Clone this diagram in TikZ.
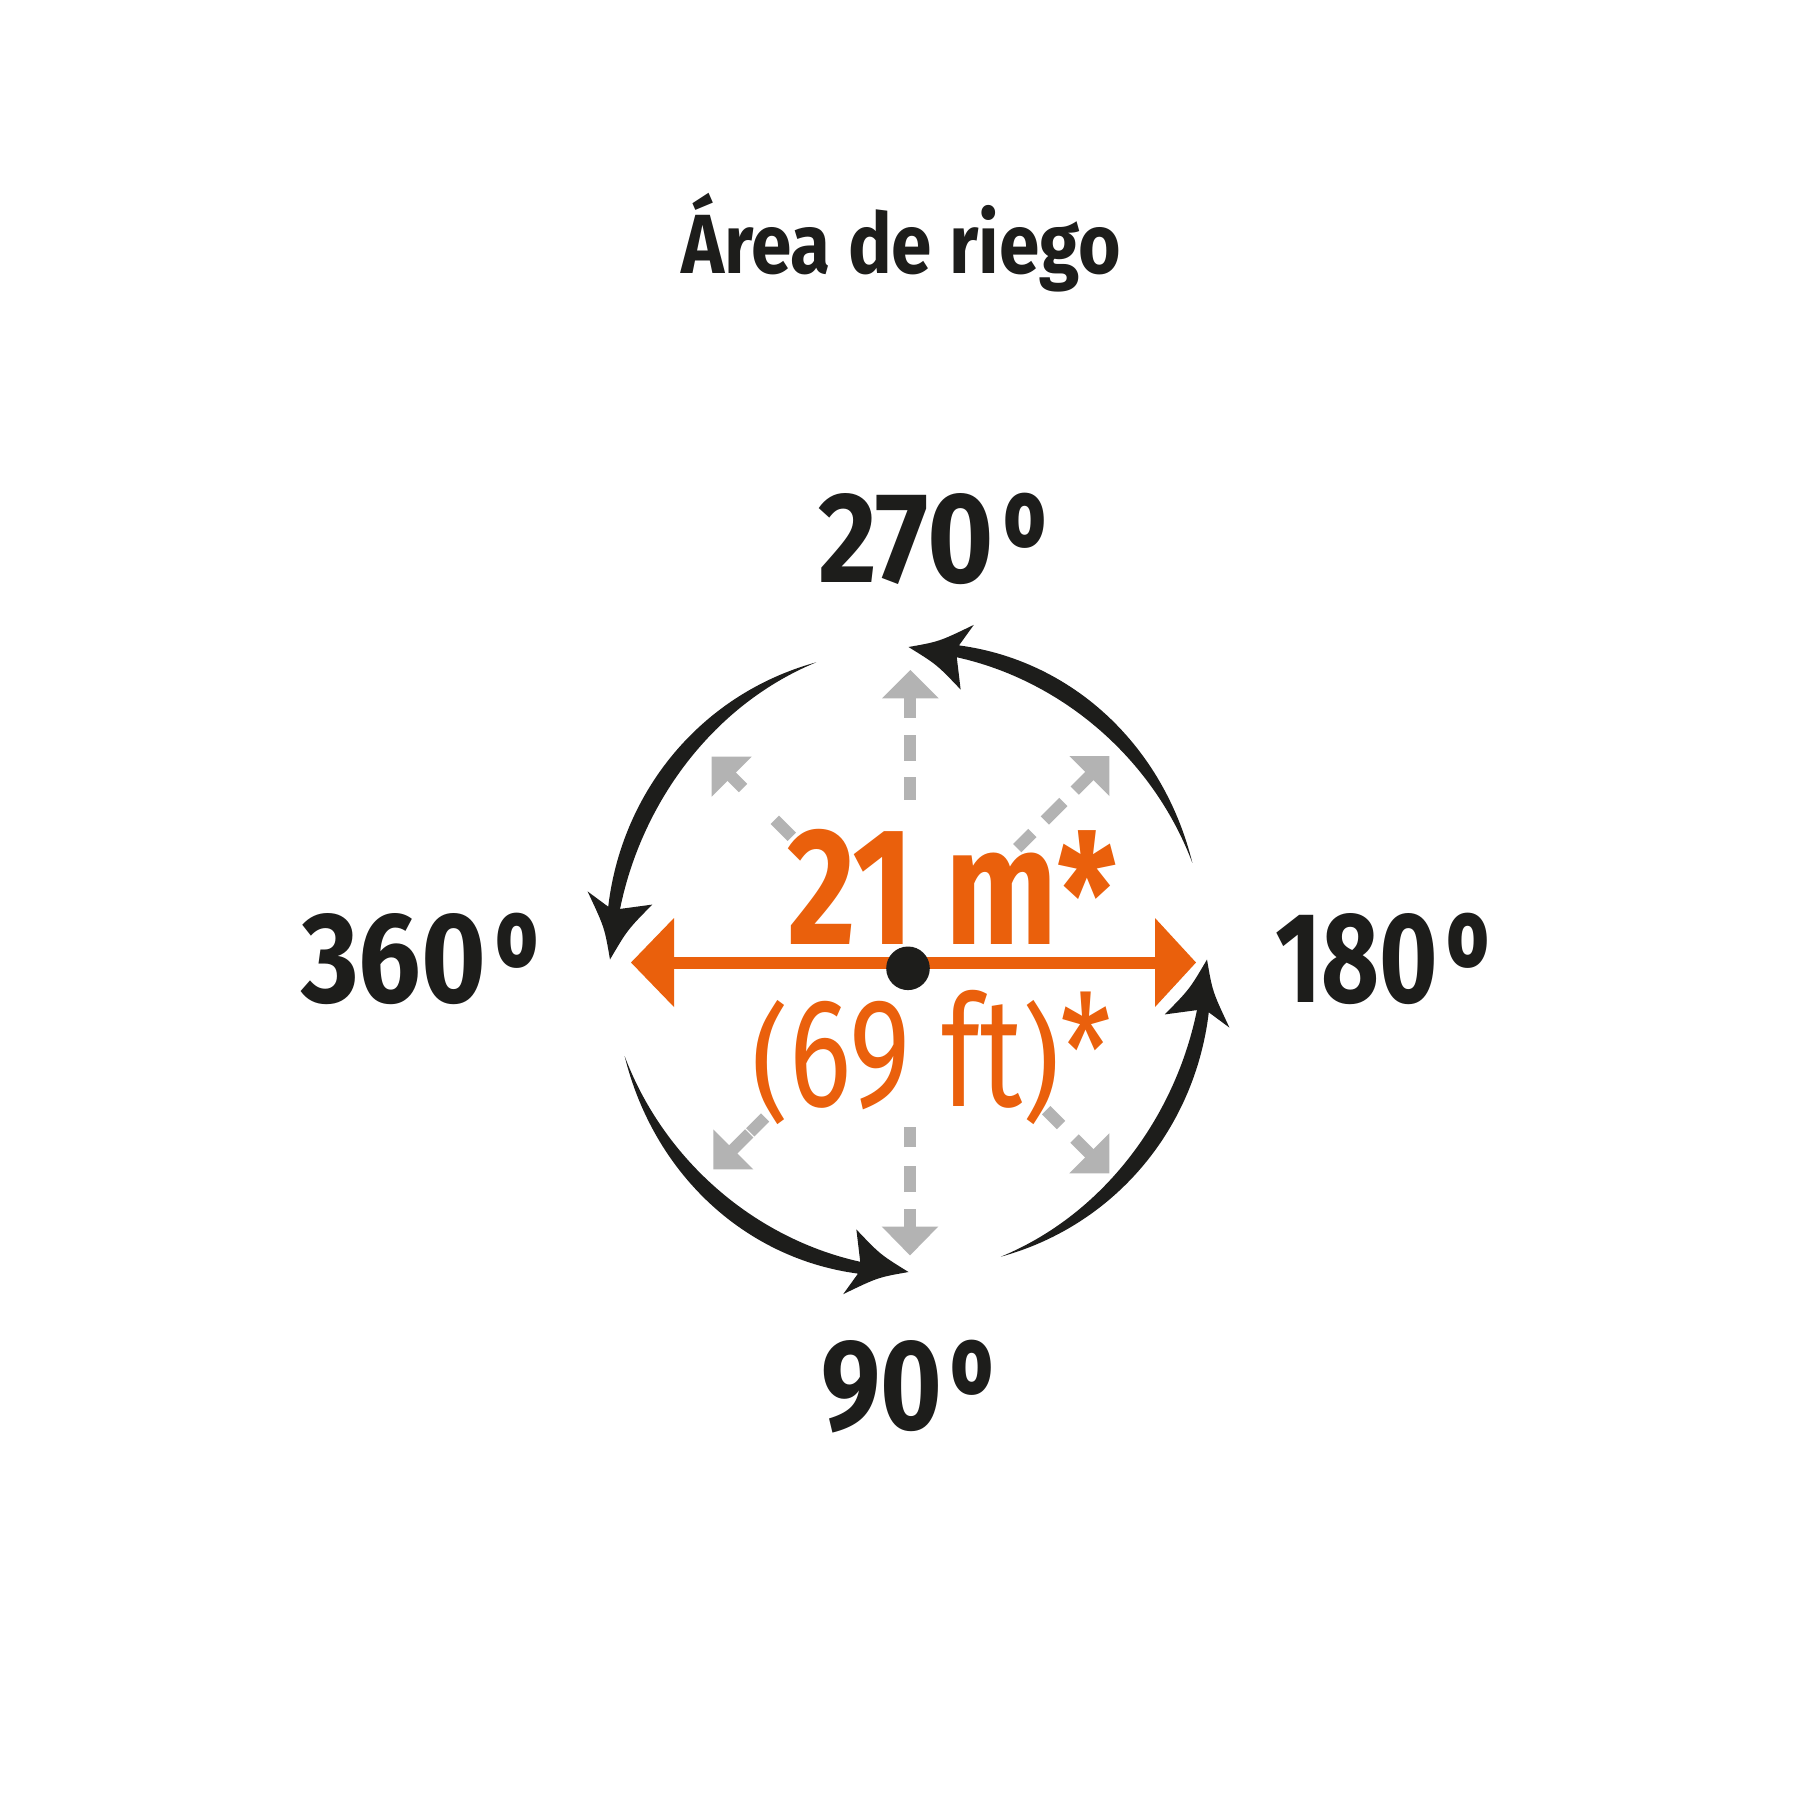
\documentclass[tikz,border=0pt]{standalone}
\usepackage{fontspec}
\setmainfont{Fira Sans}
\usepackage{graphicx}
\definecolor{ink}{HTML}{1D1D1B}
\definecolor{orng}{HTML}{EA600C}
\definecolor{gry}{HTML}{B3B3B3}
\newcommand\myfit[2]{\resizebox{#1}{\height}{#2}}
\newcommand\bigb{\fontsize{129}{129}\selectfont\bfseries}
% digits box width, gap, ordinal box width, digits
\newcommand\anglbl[4]{\myfit{#1}{\bigb #4}\hspace{#2}\myfit{#3}{\bigb º}}
\tikzset{
  lbl/.style={inner sep=0pt, anchor=base, text=ink},
  alb/.style={inner sep=0pt, anchor=base west, text=ink},
  graystem/.style={draw=gry, line width=11.7pt, line cap=butt},
  grayhead/.style={fill=gry},
  orngline/.style={draw=orng, line width=12pt, line cap=butt},
}
\begin{document}
\begin{tikzpicture}[x=1pt,y=-1pt]
\useasboundingbox (0,0) rectangle (1800,1800);
\fill[white] (0,0) rectangle (1800,1800);

% title
\node[lbl] (title) at (901,273) {\myfit{440pt}{\fontsize{84}{84}\selectfont\bfseries Área de riego}};

% angle labels (clipped to hide the bar under the ordinal sign)
\begin{scope}
\clip (803,462) rectangle (1062,557) (803,557) rectangle (1001,612);
\node[alb] (t270) at (818,582) {\anglbl{176pt}{8pt}{45pt}{270}};
\end{scope}
\begin{scope}
\clip (286,882) rectangle (554,977) (286,977) rectangle (493,1032);
\node[alb] (t360) at (301,1002) {\anglbl{185pt}{8pt}{45pt}{360}};
\end{scope}
\begin{scope}
\clip (1260,882) rectangle (1505,977) (1260,977) rectangle (1444,1032);
\node[alb] (t180) at (1275,1002) {\anglbl{163pt}{7pt}{45pt}{180}};
\end{scope}
\begin{scope}
\clip (806,1309) rectangle (1009,1404) (806,1404) rectangle (948,1459);
\node[alb] (t90) at (821,1429) {\anglbl{121pt}{7pt}{45pt}{90}};
\end{scope}

% black curved arrows
\foreach \k in {0,1,2,3}{
 \pgfmathsetmacro\tT{90*\k+90}
 \pgfmathsetmacro\tA{\tT-72}
 \pgfmathsetmacro\tN{\tT-9.5}
 \pgfmathsetmacro\tB{\tT-11.5}
 \pgfmathsetmacro\tC{\tT-5.75}
 \fill[ink]
  plot[domain=0:1,samples=60,variable=\sv]
   ({908.5+(298.5+8.5*sin(135*\sv))*cos(\tA+\sv*(\tN-\tA))},
    {959.5-(312.5+8.5*sin(135*\sv))*sin(\tA+\sv*(\tN-\tA))})
  -- ({908.5+327.5*cos(\tB)},{959.5-341.5*sin(\tB)})
  .. controls ({908.5+305.5*cos(\tC)},{959.5-319.5*sin(\tC)}) ..
  ({908.5+298.5*cos(\tT)},{959.5-312.5*sin(\tT)})
  .. controls ({908.5+282.5*cos(\tC)},{959.5-296.5*sin(\tC)}) ..
  ({908.5+261.5*cos(\tB)},{959.5-275.5*sin(\tB)})
  -- plot[domain=1:0,samples=60,variable=\sv]
   ({908.5+(298.5-8.5*sin(135*\sv))*cos(\tA+\sv*(\tN-\tA))},
    {959.5-(312.5-8.5*sin(135*\sv))*sin(\tA+\sv*(\tN-\tA))})
  -- cycle;
}

% gray dashed rays
\fill[grayhead] (910.3,670) -- (882,698.3) -- (938.6,698.3) -- cycle;
\draw[graystem] (910.3,697.5) -- (910.3,718.3) (910.3,735) -- (910.3,760.7) (910.3,777.3) -- (910.3,800);
\fill[grayhead] (910,1255.4) -- (881.7,1226.5) -- (938.3,1226.5) -- cycle;
\draw[graystem] (910,1227.3) -- (910,1208.5) (910,1192) -- (910,1166) (910,1147) -- (910,1127);
\fill[grayhead] (711.7,756.7) -- (751.7,756.7) -- (711.7,796.7) -- cycle;
\draw[graystem] (731,776) -- (743.0,788.0) (774.8,819.8) -- (791.8,836.8);
\fill[grayhead] (1109.3,756) -- (1069.3,756) -- (1109.3,796) -- cycle;
\draw[graystem] (1090,775.3) -- (1074.7,790.6) (1063.3,802.0) -- (1044.8,820.5) (1032.4,832.9) -- (1017.2,848.1);
\fill[grayhead] (713.3,1169.3) -- (713.3,1129.3) -- (753.3,1169.3) -- cycle;
\draw[graystem] (732.6,1150) -- (749.2,1133.4) (750.3,1132.3) -- (765.1,1117.5);
\fill[grayhead] (1109.3,1173.3) -- (1109.3,1133.3) -- (1069.3,1173.3) -- cycle;
\draw[graystem] (1090,1154) -- (1074.5,1138.5) (1061.0,1125.0) -- (1046.2,1110.2);

% orange double arrow
\coordinate (lt) at (631,962.5);
\coordinate (rt) at (1196,962.5);
\draw[orngline] (672,962.5) -- (1157,962.5);
\fill[orng] (lt) -- (674,918) -- (674,1007) -- cycle;
\fill[orng] (rt) -- (1155,918) -- (1155,1007) -- cycle;
\fill[ink] (908,968.3) circle[radius=21.8];

% orange texts
\node[lbl, text=orng] (t21) at (952,944) {\myfit{330pt}{\fontsize{167}{167}\selectfont\bfseries 21 m\raisebox{-10pt}{*}}};
\node[lbl, text=orng] (t69) at (931.5,1106) {\myfit{360pt}{\fontsize{155}{155}\selectfont \scalebox{1}[0.81]{(}69 ft\scalebox{1}[0.81]{)}*}};
\end{tikzpicture}
\end{document}
